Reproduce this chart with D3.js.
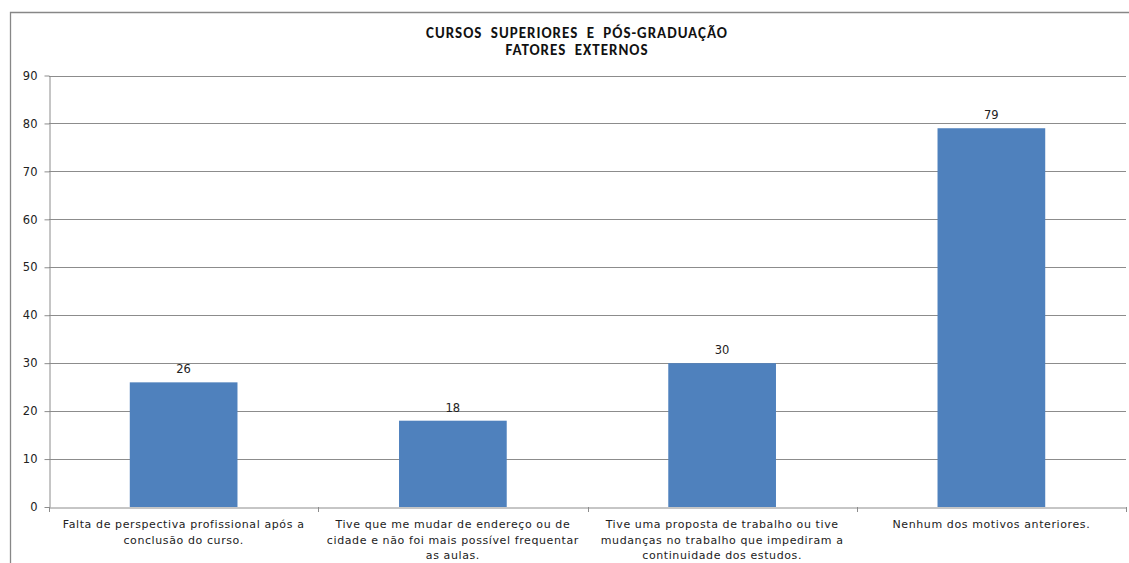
<!DOCTYPE html>
<html><head><meta charset="utf-8">
<script src="https://cdn.jsdelivr.net/npm/d3@7"></script>
<style>body{margin:0;background:#fff}</style>
</head><body>
<svg id="c" width="1129" height="563"></svg>
<script>
const categories = [
  "Falta de perspectiva profissional após a\nconclusão do curso.",
  "Tive que me mudar de endereço ou de\ncidade e não foi mais possível frequentar\nas aulas.",
  "Tive uma proposta de trabalho ou tive\nmudanças no trabalho que impediram a\ncontinuidade dos estudos.",
  "Nenhum dos motivos anteriores."
];
const values = [26, 18, 30, 79];
const yTicks = [0, 10, 20, 30, 40, 50, 60, 70, 80, 90];
const titleLines = ["CURSOS SUPERIORES E PÓS-GRADUAÇÃO", "FATORES EXTERNOS"];

const svg = d3.select("#c");
const font = "'DejaVu Sans',sans-serif";

// outer chart border
svg.append("path").attr("d","M10.5,563 L10.5,12.5 L1129,12.5")
  .attr("fill","none").attr("stroke","#878787").attr("stroke-width",1.3);

const pL = 49, pR = 1126, pT = 75.5, pB = 507;
const x = d3.scaleBand().domain(categories).range([pL, pR]).padding(0);
const y = d3.scaleLinear().domain([0, 90]).range([pB, pT]);

// gridlines
svg.append("g").selectAll("line").data(yTicks.filter(d=>d>0)).join("line")
  .attr("x1", pL).attr("x2", pR)
  .attr("y1", d=>Math.round(y(d))+0.5).attr("y2", d=>Math.round(y(d))+0.5)
  .attr("stroke","#8c8c8c").attr("stroke-width",1);

// bars
const bw = x.bandwidth()*0.4;
svg.append("g").selectAll("rect").data(values).join("rect")
  .attr("x",(d,i)=>x(categories[i])+x.bandwidth()/2-bw/2)
  .attr("width",bw)
  .attr("y",d=>y(d)).attr("height",d=>y(0)-y(d))
  .attr("fill","#4f81bd");

// value labels
svg.append("g").selectAll("text").data(values).join("text")
  .attr("x",(d,i)=>x(categories[i])+x.bandwidth()/2)
  .attr("y",d=>y(d)-9)
  .attr("text-anchor","middle").attr("font-family",font).attr("font-size","11.5px")
  .attr("fill","#222").text(d=>d);

// y axis
const ya = d3.axisLeft(y).tickValues(yTicks).tickSize(5).tickPadding(7).tickSizeOuter(0);
const gy = svg.append("g").attr("transform",`translate(${pL+0.5},0)`).call(ya);
gy.select(".domain").attr("stroke","#8c8c8c");
gy.selectAll(".tick line").attr("stroke","#8c8c8c");
gy.selectAll(".tick text").attr("font-family",font).attr("font-size","11.5px").attr("fill","#222");

// x axis
const xa = d3.axisBottom(x).tickSize(0).tickFormat("").tickSizeOuter(0);
const gx = svg.append("g").attr("transform",`translate(0,${pB+0.5})`).call(xa);
gx.select(".domain").attr("stroke","#8c8c8c");
gx.selectAll(".tick").remove();
// category boundary ticks
const bounds = categories.map(c=>x(c)).concat([pR]);
svg.append("g").selectAll("line").data(bounds).join("line")
  .attr("x1",d=>Math.round(d)+0.5).attr("x2",d=>Math.round(d)+0.5)
  .attr("y1",pB).attr("y2",pB+5).attr("stroke","#8c8c8c");

// category labels
const cl = svg.append("g").selectAll("text").data(categories).join("text")
  .attr("text-anchor","middle").attr("font-family",font).attr("font-size","11px")
  .attr("letter-spacing","0.6px").attr("fill","#222")
  .attr("transform",d=>`translate(${x(d)+x.bandwidth()/2},528)`);
cl.selectAll("tspan").data(d=>d.split("\n")).join("tspan")
  .attr("x",0).attr("dy",(d,i)=>i?15.5:0).text(d=>d);

// title
svg.append("text").attr("x",577).attr("y",38).attr("text-anchor","middle")
  .attr("font-family","Carlito,'Liberation Sans',sans-serif").attr("font-weight","bold").attr("font-size","15px")
  .attr("letter-spacing","1px").attr("word-spacing","4px").attr("fill","#111")
  .selectAll("tspan").data(titleLines).join("tspan").attr("x",577).attr("dy",(d,i)=>i?17:0).text(d=>d);
</script>
</body></html>
